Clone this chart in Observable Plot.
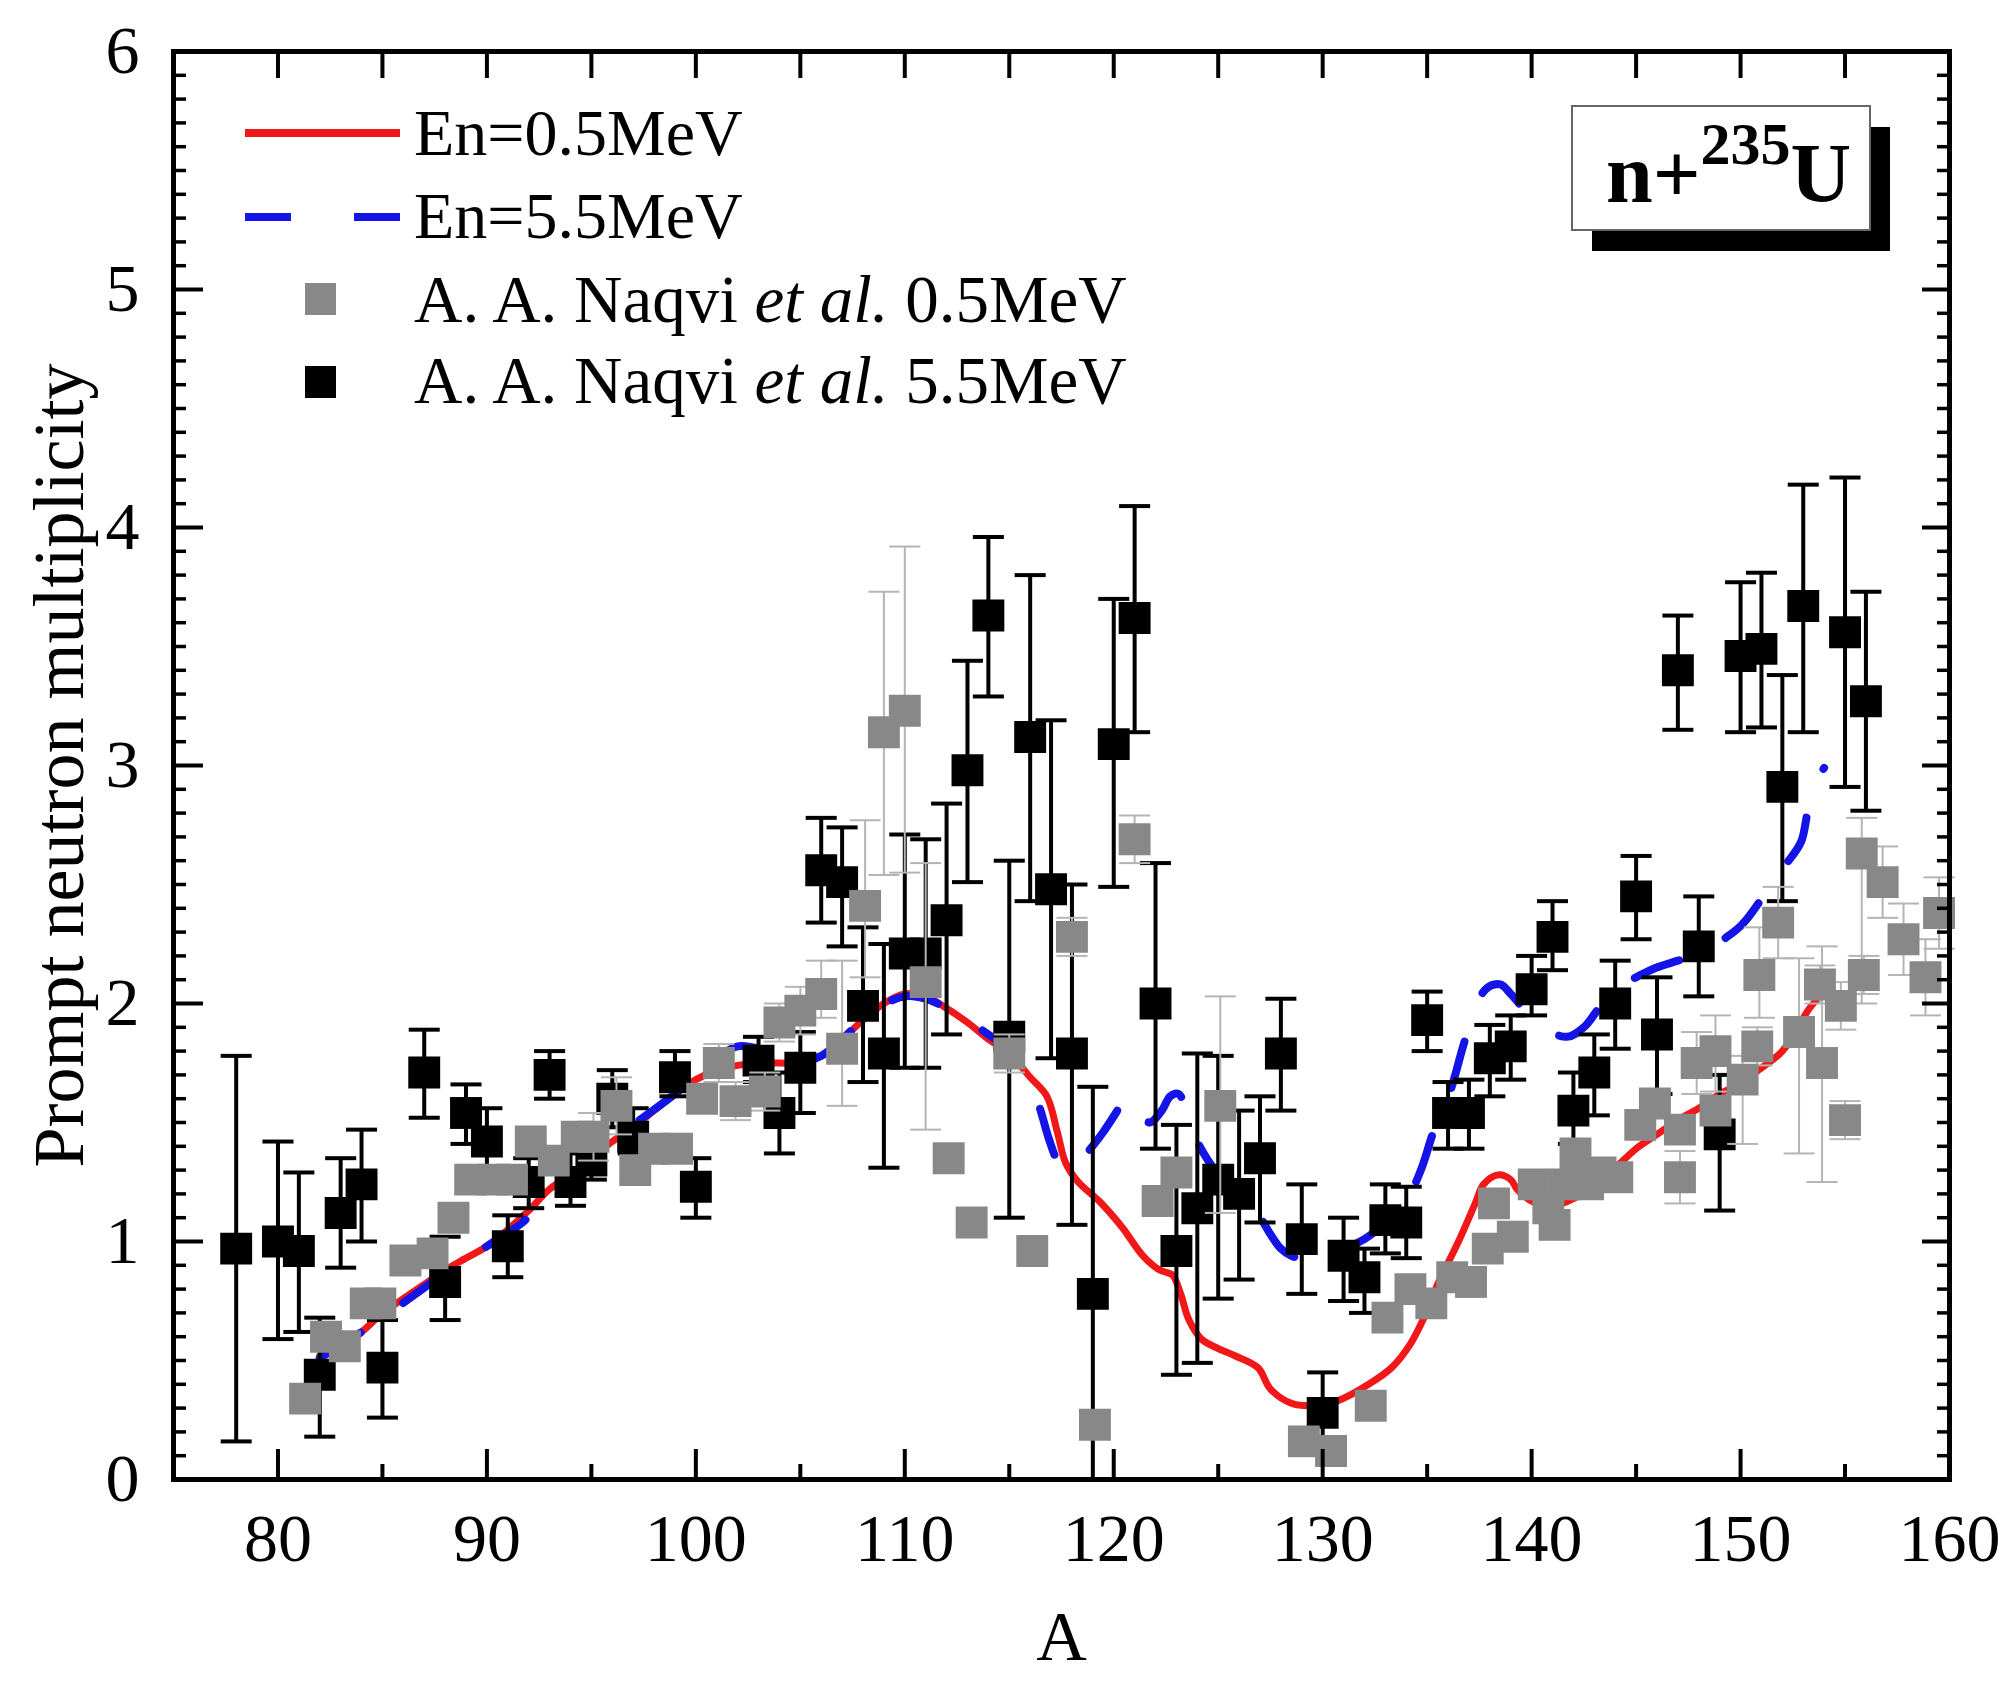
<!DOCTYPE html>
<html><head><meta charset="utf-8">
<script src="https://cdn.jsdelivr.net/npm/d3@7"></script>
<script src="https://cdn.jsdelivr.net/npm/@observablehq/plot@0.6"></script>
<style>
body{margin:0;background:#fff;}
#wrap{position:relative;width:2008px;height:1681px;}
#overlay{position:absolute;left:0;top:0;pointer-events:none;}
</style></head><body><div id="wrap"></div>
<script>
// ---- axis ticks / labels ----
const xMajor = [80, 90, 100, 110, 120, 130, 140, 150, 160];
const xMinor = [85, 95, 105, 115, 125, 135, 145, 155];
const yMajor = [0, 1, 2, 3, 4, 5, 6];
const yMinor = d3.range(1, 60).filter(i => i % 10).map(i => i / 10);
const xTitle = "A";
const yTitle = "Prompt neutron multiplicity";

// ---- A. A. Naqvi et al. 5.5 MeV (black) ----
const bA  = [78,80,81,82,83,84,85,87,88,89,90,91,92,93,94,95,96,97,99,100,103,104,105,106,107,108,109,110,111,112,113,114,115,116,117,118,119,120,121,122,123,124,125,126,127,128,129,130,131,132,133,134,135,136,137,138,139,140,141,142,143,144,145,146,147,148,149,150,151,152,153,155,156];
const bV  = [0.97,1.00,0.96,0.44,1.12,1.24,0.47,1.71,0.83,1.54,1.42,0.98,1.25,1.70,1.25,1.34,1.60,1.44,1.69,1.23,1.76,1.54,1.73,2.56,2.51,1.99,1.79,2.21,2.21,2.35,2.98,3.63,1.86,3.12,2.48,1.79,0.78,3.09,3.62,2.00,0.96,1.14,1.26,1.20,1.35,1.79,1.01,0.28,0.94,0.85,1.09,1.08,1.93,1.54,1.54,1.77,1.82,2.06,2.28,1.55,1.71,2.00,2.45,1.87,3.40,2.24,1.45,3.46,3.49,2.91,3.67,3.56,3.27];
const bLo = [0.16,0.59,0.62,0.18,0.89,1.00,0.26,1.52,0.67,1.41,1.30,0.85,1.14,1.60,1.15,1.26,1.48,1.37,1.61,1.10,1.67,1.37,1.54,2.34,2.24,1.67,1.31,1.73,1.73,1.87,2.51,3.29,1.10,2.43,1.77,1.07,0.00,2.49,3.14,1.39,0.44,0.49,0.76,0.84,1.08,1.55,0.78,0.11,0.75,0.70,0.95,0.93,1.80,1.39,1.39,1.61,1.68,1.95,2.14,1.41,1.53,1.81,2.27,1.62,3.15,2.03,1.13,3.14,3.16,2.43,3.14,2.91,2.81];
const bHi = [1.78,1.42,1.29,0.68,1.35,1.47,0.67,1.89,1.02,1.66,1.56,1.11,1.35,1.80,1.37,1.41,1.72,1.56,1.80,1.35,1.86,1.71,1.88,2.78,2.74,2.32,2.25,2.71,2.69,2.84,3.44,3.96,2.60,3.80,3.19,2.50,1.65,3.70,4.09,2.59,1.49,1.79,1.78,1.55,1.61,2.02,1.24,0.45,1.10,0.97,1.24,1.23,2.05,1.67,1.68,1.91,1.95,2.20,2.43,1.71,1.87,2.18,2.62,2.11,3.63,2.45,1.70,3.77,3.81,3.38,4.18,4.21,3.73];

// ---- A. A. Naqvi et al. 0.5 MeV (gray) ----
const gA  = [81.3,82.3,83.2,84.2,84.9,86.1,87.4,88.4,89.2,90.3,91.2,92.1,93.2,94.3,95.1,96.2,97.1,98.0,99.1,100.3,101.1,101.9,103.3,104.0,105.0,106.0,107.0,108.1,109.0,110.0,111.0,112.1,113.2,115.0,116.1,118.0,119.1,121.0,122.1,123.0,125.1,129.1,130.4,132.3,133.1,134.2,135.2,136.2,137.1,137.9,138.2,139.1,140.1,140.8,141.1,142.1,142.7,143.3,144.1,145.2,141.6,145.9,147.1,147.1,147.9,148.8,148.8,150.1,150.9,150.8,151.8,152.8,153.8,153.9,154.8,155.0,155.8,155.9,156.8,157.8,158.85,159.5];
const gV  = [0.34,0.60,0.56,0.74,0.74,0.92,0.95,1.10,1.26,1.26,1.26,1.42,1.34,1.44,1.44,1.57,1.30,1.39,1.39,1.60,1.75,1.59,1.63,1.92,1.97,2.04,1.81,2.41,3.14,3.23,2.09,1.35,1.08,1.79,0.96,2.28,0.23,2.69,1.17,1.29,1.57,0.16,0.12,0.31,0.68,0.80,0.74,0.85,0.83,0.97,1.16,1.02,1.24,1.14,1.07,1.37,1.24,1.29,1.27,1.49,1.24,1.58,1.47,1.27,1.75,1.55,1.80,1.68,2.12,1.82,2.34,1.88,2.08,1.75,1.99,1.51,2.63,2.12,2.51,2.27,2.11,2.38];
const gDn = [0.05,0.05,0.05,0.05,0.05,0.05,0.05,0.05,0.05,0.05,0.05,0.05,0.05,0.05,0.10,0.12,0.05,0.05,0.05,0.06,0.08,0.08,0.08,0.08,0.10,0.10,0.24,0.30,0.60,0.68,0.62,0.06,0.06,0.08,0.06,0.08,0.05,0.10,0.06,0.06,0.45,0.05,0.05,0.05,0.06,0.06,0.06,0.06,0.06,0.06,0.06,0.06,0.06,0.06,0.06,0.06,0.06,0.06,0.06,0.06,0.06,0.06,0.06,0.11,0.13,0.06,0.17,0.27,0.18,0.08,0.15,0.51,0.08,0.50,0.10,0.08,0.63,0.08,0.15,0.15,0.16,0.15];
const gUp = [0.05,0.05,0.05,0.05,0.05,0.05,0.05,0.05,0.05,0.05,0.05,0.05,0.05,0.05,0.10,0.12,0.05,0.05,0.05,0.06,0.08,0.08,0.08,0.08,0.10,0.14,0.37,0.36,0.59,0.69,0.50,0.06,0.06,0.08,0.06,0.08,0.05,0.10,0.06,0.06,0.46,0.05,0.05,0.05,0.06,0.06,0.06,0.06,0.06,0.06,0.06,0.06,0.06,0.06,0.06,0.06,0.06,0.06,0.06,0.06,0.06,0.06,0.06,0.11,0.13,0.06,0.15,0.10,0.20,0.08,0.15,0.31,0.08,0.49,0.10,0.08,0.15,0.08,0.15,0.15,0.16,0.15];

// ---- Calculated curves ----
const c05A = [82,83,84,85,86,87,88,89,90,91,92,93,94,95,96,97,98,99,100,101,102,103,104,105,106,107,108,109,110,111,112,113,114,115,116,116.8,117.3,117.7,118.3,119.3,120.4,121.4,122.2,122.8,123.2,123.6,124.2,125,125.8,126.9,127.5,128.5,129.5,130.7,132.2,133.3,134.2,134.9,135.5,136.5,137.3,137.7,138.4,139,139.3,140,141,142,143,144,145,146,147,148,149,150,150.7,152,153.3,154];
const c05V = [0.52,0.57,0.62,0.70,0.76,0.82,0.88,0.93,0.98,1.05,1.13,1.22,1.28,1.35,1.42,1.48,1.55,1.62,1.68,1.72,1.74,1.75,1.75,1.75,1.78,1.85,1.93,2.00,2.04,2.03,1.98,1.92,1.85,1.79,1.69,1.61,1.46,1.33,1.25,1.17,1.06,0.94,0.88,0.86,0.78,0.67,0.59,0.55,0.52,0.47,0.38,0.32,0.31,0.33,0.40,0.47,0.57,0.69,0.82,1.00,1.16,1.24,1.28,1.26,1.22,1.17,1.15,1.18,1.24,1.31,1.39,1.45,1.51,1.56,1.62,1.66,1.71,1.80,1.98,2.05];
const c55A = [82,84,86.6,88,90,91.7,93,95,97,99,100,101,102,103.5,105,106,107,108.5,110,111,112,113.5,115,116,116.5,116.9,117.3,117.7,118.2,118.8,119.5,120.1,120.6,121.1,121.7,122.3,122.7,123.1,123.4,124,125,126,127,127.5,128,128.5,129,130,131,132,133,134.1,134.7,135.3,136.1,136.9,137.8,138.5,139,139.6,140.5,141.7,142.5,143.3,144.1,145,145.95,147,148.4,149.2,150.05,151,151.6,152.3,152.9,153.2,153.55,154];
const c55V = [0.51,0.62,0.78,0.87,0.98,1.08,1.20,1.35,1.49,1.62,1.70,1.77,1.82,1.80,1.76,1.78,1.85,1.97,2.03,2.02,1.98,1.90,1.80,1.68,1.55,1.43,1.34,1.30,1.32,1.38,1.46,1.54,1.61,1.56,1.50,1.55,1.61,1.62,1.57,1.42,1.28,1.18,1.10,1.03,0.97,0.94,0.93,0.95,0.97,1.01,1.08,1.19,1.30,1.46,1.63,1.87,2.06,2.08,2.04,1.98,1.90,1.86,1.90,1.99,2.07,2.11,2.15,2.18,2.22,2.27,2.33,2.44,2.53,2.60,2.68,2.80,2.92,2.99];

const black = bA.map((A, i) => ({A, v: bV[i], lo: bLo[i], hi: bHi[i]}));
const gray = gA.map((A, i) => ({A, v: gV[i], lo: gV[i] - gDn[i], hi: gV[i] + gUp[i]}));
const red = c05A.map((A, i) => ({A, v: c05V[i]}));
const blue = c55A.map((A, i) => ({A, v: c55V[i]}));

const W = 2008, H = 1681, mL = 173, mR = 59, mT = 51, mB = 202;
const pw = W - mL - mR, ph = H - mT - mB;
const FONT = "'Liberation Serif','Times New Roman',serif";
const capSymbol = {draw(ctx, size) { const w = Math.sqrt(size) / 2; ctx.moveTo(-w, 0); ctx.lineTo(w, 0); }};

const chart = Plot.plot({
  width: W, height: H, marginLeft: mL, marginRight: mR, marginTop: mT, marginBottom: mB,
  x: {domain: [75, 160]},
  y: {domain: [0, 6]},
  style: {fontFamily: FONT, fontSize: "68px", background: "white", color: "black", overflow: "visible"},
  marks: [
    Plot.line(red, {x: "A", y: "v", stroke: "#f01818", strokeWidth: 7, curve: "catmull-rom"}),
    Plot.line(blue, {x: "A", y: "v", stroke: "#1414e6", strokeWidth: 8, curve: "catmull-rom", strokeDasharray: "48,52"}),
    Plot.ruleX(black, {x: "A", y1: "lo", y2: "hi", stroke: "black", strokeWidth: 4}),
    Plot.dot(black, {x: "A", y: "lo", symbol: capSymbol, r: 17.5, fill: "none", stroke: "black", strokeWidth: 4}),
    Plot.dot(black, {x: "A", y: "hi", symbol: capSymbol, r: 17.5, fill: "none", stroke: "black", strokeWidth: 4}),
    Plot.dot(black, {x: "A", y: "v", symbol: "square", r: 18, fill: "black"}),
    Plot.ruleX(gray, {x: "A", y1: "lo", y2: "hi", stroke: "#b4b4b4", strokeWidth: 2}),
    Plot.dot(gray, {x: "A", y: "lo", symbol: capSymbol, r: 17.5, fill: "none", stroke: "#b4b4b4", strokeWidth: 2}),
    Plot.dot(gray, {x: "A", y: "hi", symbol: capSymbol, r: 17.5, fill: "none", stroke: "#b4b4b4", strokeWidth: 2}),
    Plot.dot(gray, {x: "A", y: "v", symbol: "square", r: 18, fill: "#888888"}),
    // inward ticks on all four sides
    Plot.tickX(xMajor, {x: d => d, insetTop: ph - 30, strokeWidth: 4}),
    Plot.tickX(xMinor, {x: d => d, insetTop: ph - 15, strokeWidth: 4}),
    Plot.tickX(xMajor.concat(xMinor), {x: d => d, insetBottom: ph - 27, strokeWidth: 4}),
    Plot.tickY(yMajor, {y: d => d, insetRight: pw - 30, strokeWidth: 4}),
    Plot.tickY(yMinor, {y: d => d, insetRight: pw - 13, strokeWidth: 3.5}),
    Plot.tickY(yMajor, {y: d => d, insetLeft: pw - 27, strokeWidth: 4}),
    Plot.tickY(yMinor, {y: d => d, insetLeft: pw - 12, strokeWidth: 3.5}),
    Plot.frame({stroke: "black", strokeWidth: 5}),
    Plot.axisX(xMajor, {anchor: "bottom", tickSize: 0, tickPadding: 33, fontSize: 68, label: null, tickFormat: d3.format("d")}),
    Plot.axisY(yMajor, {anchor: "left", tickSize: 0, tickPadding: 34, fontSize: 68, label: null, tickFormat: d3.format("d")}),
    Plot.text([xTitle], {text: d => d, frameAnchor: "bottom", textAnchor: "middle", lineAnchor: "middle", dy: 158, fontSize: 70}),
    Plot.text([yTitle], {text: d => d, frameAnchor: "left", textAnchor: "middle", lineAnchor: "middle", dx: -114, rotate: -90, fontSize: 72})
  ]
});

const wrap = document.getElementById("wrap");
wrap.appendChild(chart);

// ---- legend + annotation overlay ----
const ov = d3.create("svg").attr("id", "overlay").attr("width", W).attr("height", H)
  .style("font-family", FONT);
ov.append("line").attr("x1", 245).attr("x2", 400).attr("y1", 133).attr("y2", 133)
  .attr("stroke", "#f01818").attr("stroke-width", 8);
ov.append("text").attr("x", 414).attr("y", 155).attr("font-size", 66).text("En=0.5MeV");
ov.append("line").attr("x1", 245).attr("x2", 400).attr("y1", 217).attr("y2", 217)
  .attr("stroke", "#1414e6").attr("stroke-width", 8).attr("stroke-dasharray", "46,63");
ov.append("text").attr("x", 414).attr("y", 238).attr("font-size", 66).text("En=5.5MeV");
ov.append("rect").attr("x", 305).attr("y", 283).attr("width", 31).attr("height", 32).attr("fill", "#888888");
const t3 = ov.append("text").attr("x", 414).attr("y", 322).attr("font-size", 67);
t3.append("tspan").text("A. A. Naqvi ");
t3.append("tspan").attr("font-style", "italic").text("et al.");
t3.append("tspan").text(" 0.5MeV");
ov.append("rect").attr("x", 305).attr("y", 366).attr("width", 31).attr("height", 32).attr("fill", "black");
const t4 = ov.append("text").attr("x", 414).attr("y", 403).attr("font-size", 67);
t4.append("tspan").text("A. A. Naqvi ");
t4.append("tspan").attr("font-style", "italic").text("et al.");
t4.append("tspan").text(" 5.5MeV");

ov.append("rect").attr("x", 1592).attr("y", 127).attr("width", 298).attr("height", 124).attr("fill", "black");
ov.append("rect").attr("x", 1572).attr("y", 106).attr("width", 298).attr("height", 124)
  .attr("fill", "white").attr("stroke", "#666").attr("stroke-width", 2);
const nt = ov.append("text").attr("x", 1606).attr("y", 202).attr("font-size", 84).attr("font-weight", "bold");
nt.append("tspan").text("n+");
nt.append("tspan").attr("font-size", 60).attr("dy", -38).text("235");
nt.append("tspan").attr("dy", 38).text("U");
wrap.appendChild(ov.node());
</script></body></html>
